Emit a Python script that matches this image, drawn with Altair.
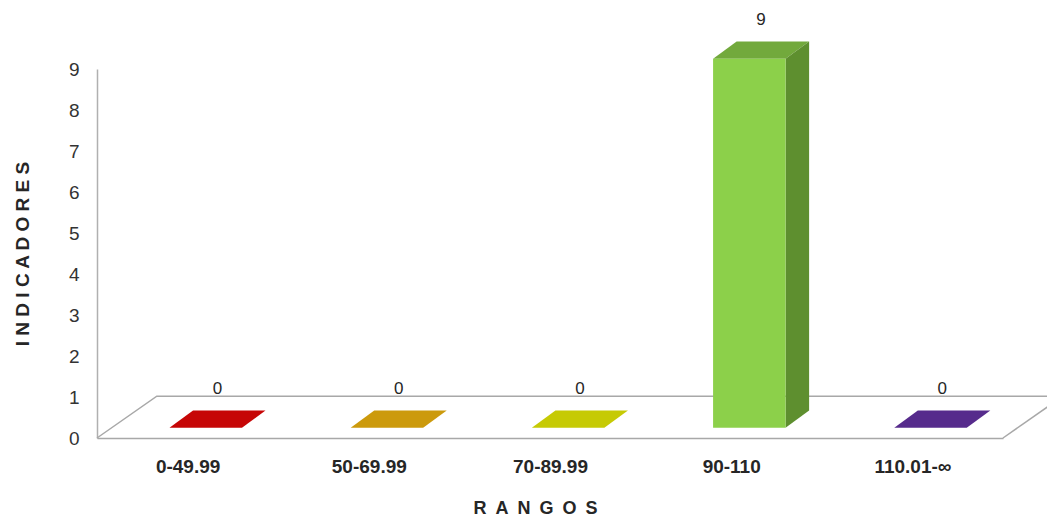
import altair as alt
import pandas as pd

# ---------------- data ----------------
categories = ["0-49.99", "50-69.99", "70-89.99", "90-110", "110.01-\u221e"]
values = [0, 0, 0, 9, 0]
front_colors = ["#c00000", "#c8960a", "#c2c600", "#8cd04a", "#532a87"]
top_colors = ["#c60606", "#cc9a0c", "#c6ca04", "#72a93c", "#562b8c"]
side_colors = ["#900000", "#9a7308", "#949800", "#5e8f2f", "#3c1f64"]
y_ticks = list(range(10))

# ---------------- 3D styling constants (data units) ----------------
BAR_START = 0.40   # offset of bar front-left from category start
BAR_W = 0.40       # bar width
BASE = 0.25        # bar base lift (depth placement)
DX = 0.13          # bar depth, x
DY = 0.42          # bar depth, y
FLOOR_DX = 0.33
FLOOR_DY = 1.02
N = len(categories)

font = "Liberation Sans Narrow, Arial Narrow, Liberation Sans, Arial"

front_rows, face_rows, label_rows = [], [], []
for i, (cat, v) in enumerate(zip(categories, values)):
    x0 = i + BAR_START
    x1 = x0 + BAR_W
    b = BASE
    t = v + BASE
    front_rows.append({"cat": cat, "x": x0, "x2": x1, "y": b, "y2": t, "c": front_colors[i]})
    gid = f"top{i}"
    for xx, ya, yb in [(x0, t, t), (x0 + DX, t, t + DY), (x1, t, t + DY), (x1 + DX, t + DY, t + DY)]:
        face_rows.append({"g": gid, "x": xx, "y": ya, "y2": yb, "c": top_colors[i]})
    if v > 0:
        gid = f"side{i}"
        for xx, ya, yb in [(x1, b, t), (x1 + DX, b + DY, t + DY)]:
            face_rows.append({"g": gid, "x": xx, "y": ya, "y2": yb, "c": side_colors[i]})
    label_rows.append({"x": (x0 + x1) / 2 + DX / 2, "y": t + DY, "txt": str(v)})

front_df = pd.DataFrame(front_rows)
face_df = pd.DataFrame(face_rows)
label_df = pd.DataFrame(label_rows)

floor_df = pd.DataFrame([
    {"g": "a", "o": 0, "x": 0, "y": 0},
    {"g": "a", "o": 1, "x": FLOOR_DX, "y": FLOOR_DY},
    {"g": "a", "o": 2, "x": N + 0.6, "y": FLOOR_DY},
    {"g": "b", "o": 0, "x": N, "y": 0},
    {"g": "b", "o": 1, "x": N + FLOOR_DX, "y": FLOOR_DY},
])

label_js = "[" + ",".join("'" + c + "'" for c in categories) + "][floor(datum.value)]"

xscale = alt.Scale(domain=[0, N], nice=False, zero=False)
yscale = alt.Scale(domain=[0, 9], nice=False)

x_axis = alt.Axis(
    values=[i + 0.5 for i in range(N)], labelExpr=label_js,
    title="R\u2002A\u2002N\u2002G\u2002O\u2002S",
    grid=False, ticks=False, domainColor="#a8a8a8", domainWidth=1.5,
    labelFont=font, labelFontSize=19, labelFontWeight="bold", labelColor="#262626",
    labelPadding=19, titleFont=font, titleFontSize=18, titleFontWeight="bold",
    titleColor="#262626", titlePadding=23, titleX=438,
)
y_axis = alt.Axis(
    values=y_ticks, format="d", title="I N D I C A D O R E S", grid=False, ticks=False,
    domainColor="#b0b0b0", domainWidth=1.5, labelFont=font, labelFontSize=19,
    labelColor="#333333", labelPadding=18, titleFont=font, titleFontSize=19,
    titleFontWeight="bold", titleColor="#262626", titlePadding=36,
)

floor = alt.Chart(floor_df).mark_line(color="#a8a8a8", strokeWidth=1.5).encode(
    x=alt.X("x:Q", scale=xscale, axis=x_axis),
    y=alt.Y("y:Q", scale=yscale, axis=y_axis),
    detail="g:N",
    order="o:Q",
)

faces = alt.Chart(face_df).mark_area(interpolate="linear").encode(
    x=alt.X("x:Q", scale=xscale),
    y=alt.Y("y:Q", scale=yscale),
    y2="y2:Q",
    detail="g:N",
    color=alt.Color("c:N", scale=None),
)

fronts = alt.Chart(front_df).mark_rect().encode(
    x=alt.X("x:Q", scale=xscale),
    x2="x2:Q",
    y=alt.Y("y:Q", scale=yscale),
    y2="y2:Q",
    color=alt.Color("c:N", scale=None),
)

labels = alt.Chart(label_df).mark_text(
    font=font, fontSize=17, color="#262626", dy=-22
).encode(
    x=alt.X("x:Q", scale=xscale),
    y=alt.Y("y:Q", scale=yscale),
    text="txt:N",
)

chart = alt.layer(floor, faces, fronts, labels).properties(
    width=906, height=369,
    padding={"left": 89, "top": 61, "right": 44, "bottom": 83},
    autosize="none",
    background="white",
).configure_view(stroke=None)

chart.save("out.html", embed_options={"renderer": "svg", "actions": False})
